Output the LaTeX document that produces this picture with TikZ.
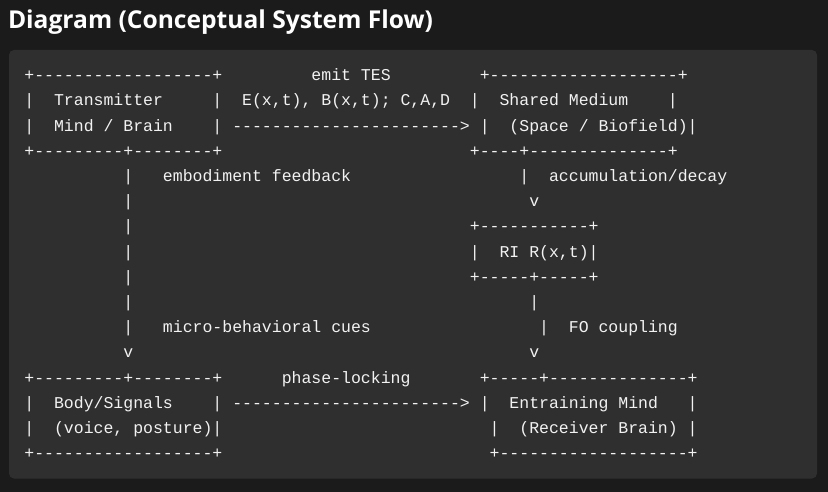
\documentclass[tikz,border=0pt]{standalone}
\usepackage{fontspec}
\setmainfont{Open Sans}
\setmonofont{Liberation Mono}
\ExplSyntaxOn
\cs_new:Npn \dsh #1 {\prg_replicate:nn {#1} {-}}
\ExplSyntaxOff
\definecolor{pagebg}{HTML}{1B1B1B}
\definecolor{codebg}{HTML}{2F2F2F}
\definecolor{codefg}{HTML}{F2F2F2}
\tikzset{
  seg/.style={anchor=base west, inner sep=0pt, outer sep=0pt, text=codefg,
    font=\ttfamily\fontsize{16.5bp}{18bp}\selectfont},
  titletext/.style={anchor=base west, inner sep=0pt, outer sep=0pt, text=white,
    font=\bfseries\fontsize{24.6bp}{28bp}\selectfont}
}
\newcommand\seg[4]{\node[seg] (#1) at ({24.35+9.9*#2},{106+25.19*(#3-2)}) {#4};}
\begin{document}
\begin{tikzpicture}[x=1bp,y=-1bp]
\useasboundingbox (0,0) rectangle (828,492);
\fill[pagebg] (0,0) rectangle (828,492);
\fill[codebg, rounded corners=5bp] (9,50) rectangle (817,478.5);
\node[titletext] (title) at (8,28.6) {Diagram (Conceptual System Flow)};
% row 1
\seg{r1a}{0}{1}{+\dsh{18}+}
\seg{r1b}{29}{1}{emit TES}
\seg{r1c}{46}{1}{+\dsh{19}+}
% row 2
\seg{r2a}{0}{2}{|}
\seg{r2b}{3}{2}{Transmitter}
\seg{r2c}{19}{2}{|}
\seg{r2d}{22}{2}{E(x,t), B(x,t); C,A,D}
\seg{r2e}{45}{2}{|}
\seg{r2f}{48}{2}{Shared Medium}
\seg{r2g}{65}{2}{|}
% row 3
\seg{r3a}{0}{3}{|}
\seg{r3b}{3}{3}{Mind / Brain}
\seg{r3c}{19}{3}{|}
\seg{r3d}{21}{3}{\dsh{23}>}
\seg{r3e}{46}{3}{|}
\seg{r3f}{49}{3}{(Space / Biofield)|}
% row 4
\seg{r4a}{0}{4}{+\dsh{9}+\dsh{8}+}
\seg{r4b}{45}{4}{+\dsh{4}+\dsh{14}+}
% row 5
\seg{r5a}{10}{5}{|}
\seg{r5b}{14}{5}{embodiment feedback}
\seg{r5c}{50}{5}{|}
\seg{r5d}{53}{5}{accumulation/decay}
% row 6
\seg{r6a}{10}{6}{|}
\seg{r6b}{51}{6}{v}
% row 7
\seg{r7a}{10}{7}{|}
\seg{r7b}{45}{7}{+\dsh{11}+}
% row 8
\seg{r8a}{10}{8}{|}
\seg{r8b}{45}{8}{|}
\seg{r8c}{48}{8}{RI R(x,t)|}
% row 9
\seg{r9a}{10}{9}{|}
\seg{r9b}{45}{9}{+\dsh{5}+\dsh{5}+}
% row 10
\seg{r10a}{10}{10}{|}
\seg{r10b}{51}{10}{|}
% row 11
\seg{r11a}{10}{11}{|}
\seg{r11b}{14}{11}{micro-behavioral cues}
\seg{r11c}{52}{11}{|}
\seg{r11d}{55}{11}{FO coupling}
% row 12
\seg{r12a}{10}{12}{v}
\seg{r12b}{51}{12}{v}
% row 13
\seg{r13a}{0}{13}{+\dsh{9}+\dsh{8}+}
\seg{r13b}{26}{13}{phase-locking}
\seg{r13c}{46}{13}{+\dsh{5}+\dsh{14}+}
% row 14
\seg{r14a}{0}{14}{|}
\seg{r14b}{3}{14}{Body/Signals}
\seg{r14c}{19}{14}{|}
\seg{r14d}{21}{14}{\dsh{23}>}
\seg{r14e}{46}{14}{|}
\seg{r14f}{49}{14}{Entraining Mind}
\seg{r14g}{67}{14}{|}
% row 15
\seg{r15a}{0}{15}{|}
\seg{r15b}{3}{15}{(voice, posture)|}
\seg{r15c}{47}{15}{|}
\seg{r15d}{50}{15}{(Receiver Brain)}
\seg{r15e}{67}{15}{|}
% row 16
\seg{r16a}{0}{16}{+\dsh{18}+}
\seg{r16b}{47}{16}{+\dsh{19}+}
\end{tikzpicture}
\end{document}
